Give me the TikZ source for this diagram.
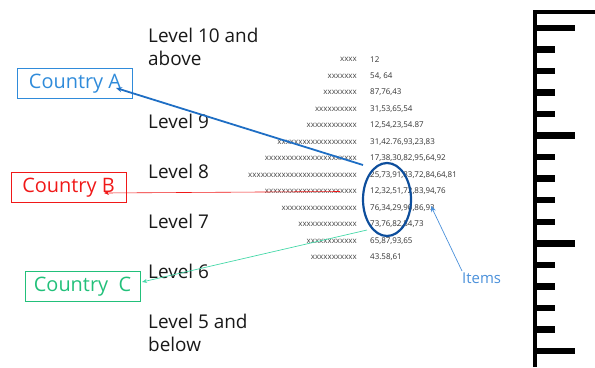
\documentclass[tikz,border=0pt]{standalone}
\usepackage{fontspec}
\setmainfont{Open Sans}
\usetikzlibrary{arrows.meta}
\definecolor{cblue}{HTML}{2F8BDA}
\definecolor{ablue}{HTML}{1E6EC4}
\definecolor{eblue}{HTML}{0D4E9C}
\definecolor{cred}{HTML}{F01818}
\definecolor{cgreen}{HTML}{22C07A}
\definecolor{agreen}{HTML}{44D8A8}
\definecolor{ibl}{HTML}{4A90DA}
\begin{document}
\begin{tikzpicture}[x=1bp,y=-1bp,
  lvl/.style={anchor=west,inner sep=0pt,font=\fontsize{19}{23}\selectfont,align=left,text=black!90},
  xs/.style={anchor=east,inner sep=0pt,font=\fontsize{8}{9}\selectfont,text=black!75},
  nums/.style={anchor=west,inner sep=0pt,font=\fontsize{8}{9}\selectfont,text=black!80},
  cbox/.style={draw,line width=0.9pt,minimum width=115bp,minimum height=30bp,inner sep=0pt,font=\fontsize{20}{22}\selectfont},
  tick/.style={line width=6.5bp,line cap=butt}]
\useasboundingbox (0,0) rectangle (595,367);

% levels
\node[lvl] (l10) at (148,47) {Level 10 and\\above};
\node[lvl] (l9) at (148,121) {Level 9};
\node[lvl] (l8) at (148,171) {Level 8};
\node[lvl] (l7) at (148,221) {Level 7};
\node[lvl] (l6) at (148,271) {Level 6};
\node[lvl] (l5) at (148,333) {Level 5 and\\below};

% rows
\foreach \i/\xx/\nn in {
 0/xxxx/12,
 1/xxxxxxx/{54, 64},
 2/xxxxxxxx/{87,76,43},
 3/xxxxxxxxxx/{31,53,65,54},
 4/xxxxxxxxxxxx/{12,54,23,54.87},
 5/xxxxxxxxxxxxxxxxxxx/{31,42.76,93,23,83},
 6/xxxxxxxxxxxxxxxxxxxxxx/{17,38,30,82,95,64,92},
 7/xxxxxxxxxxxxxxxxxxxxxxxxxx/{25,73,91,83,72,84,64,81},
 8/xxxxxxxxxxxxxxxxxxxxxx/{12,32,51,72,83,94,76},
 9/xxxxxxxxxxxxxxxxxx/{76,34,29,90,86,93},
 10/xxxxxxxxxxxxxx/{73,76,82,84,73},
 11/xxxxxxxxxxxx/{65,87,93,65},
 12/xxxxxxxxxxx/{43.58,61}}
{
 \node[xs] (x\i) at (357,{59.5+16.5*\i}) {\xx};
 \node[nums] (n\i) at (370,{59.5+16.5*\i}) {\nn};
}

% country boxes
\node[cbox,draw=cblue,text=cblue] (ca) at (75,83.5) {Country A};
\node[cbox,draw=cred,text=cred] (cb) at (68.5,187.5) {Country B};
\node[cbox,draw=cgreen,text=cgreen] (cc) at (82.5,286.5) {Country\ \ C};

% ellipse
\draw[eblue,line width=2.2pt] (387,199.5) ellipse [x radius=24, y radius=36.5];
\node[inner sep=0pt] (ell) at (387,199.5) {};

% arrow endpoints
\coordinate (bs) at (363,165);
\coordinate (bt) at (116,88);
\coordinate (rs) at (340,191.5);
\coordinate (rt) at (104,193);
\coordinate (gs) at (367,230);
\coordinate (gt) at (142,282);
\coordinate (is) at (462,271);
\coordinate (it) at (431,206);

\draw[ablue,line width=1.8pt,-{Stealth[length=6pt,width=5pt]}] (bs) -- (bt);
\draw[cred,line width=0.6pt,-{Stealth[length=5pt,width=4pt]}] (rs) -- (rt);
\draw[agreen,line width=0.7pt,-{Stealth[length=5pt,width=4pt]}] (gs) -- (gt);
\draw[ibl,line width=0.7pt,-{Stealth[length=6pt,width=5pt]}] (is) -- (it);
\node[anchor=west,inner sep=0pt,text=ibl,font=\fontsize{15}{17}\selectfont] (items) at (462,278) {Items};

% ruler
\draw[line width=4bp,line cap=butt] (535,367) -- (535,12) -- (595,12);
\foreach \k in {0,...,15}{
  \pgfmathsetmacro{\yy}{28+21.53*\k}
  \pgfmathtruncatemacro{\md}{mod(\k,5)}
  \ifnum\md=0
    \draw[tick] (535,\yy) -- (575,\yy);
  \else
    \draw[tick] (535,\yy) -- (555,\yy);
  \fi
}
\end{tikzpicture}
\end{document}
